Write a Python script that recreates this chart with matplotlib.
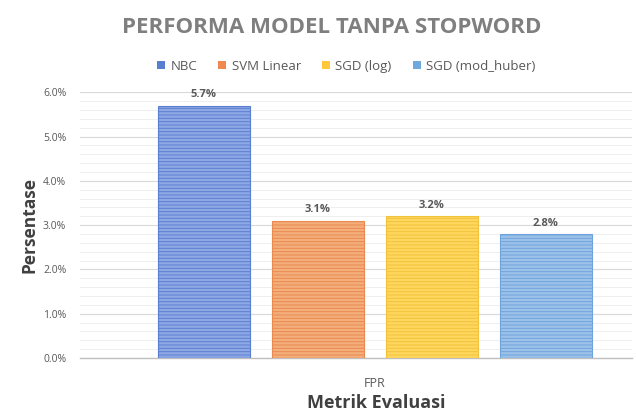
import matplotlib.pyplot as plt
from matplotlib.patches import Patch
from matplotlib.ticker import MultipleLocator, PercentFormatter

# data
models = ['NBC', 'SVM Linear', 'SGD (log)', 'SGD (mod_huber)']
fpr = [0.057, 0.031, 0.032, 0.028]
metric = ['FPR']

face_cols = ['#8EA8E6', '#F3AE7C', '#FFD75E', '#9CC2EA']
line_cols = ['#5B7FD0', '#E98A4E', '#F2C23A', '#6FA3DC']
legend_cols = ['#5B7FD0', '#EE8A50', '#FFC83A', '#6FA8DC']

plt.rcParams['font.family'] = ['Open Sans', 'DejaVu Sans']
plt.rcParams['hatch.linewidth'] = 0.7

fig = plt.figure(figsize=(6.36, 4.19), dpi=100)
ax = fig.add_axes([0.126, 0.1456, 0.868, 0.634])

step = 1.14
width = 0.92
for i, (m, v) in enumerate(zip(models, fpr)):
    x = (i - 1.5) * step
    ax.bar(x, v, width=width, color=face_cols[i], edgecolor=line_cols[i],
           hatch='-----', linewidth=0.8, zorder=3)
    ax.text(x, v + 0.0012, f'{v*100:.1f}%', ha='center', va='bottom',
            fontsize=8, color='#595959', fontweight='bold')

ax.set_xlim(-2.945, 2.575)
ax.set_ylim(0, 0.06)
ax.yaxis.set_major_locator(MultipleLocator(0.01))
ax.yaxis.set_minor_locator(MultipleLocator(0.002))
ax.yaxis.set_major_formatter(PercentFormatter(1.0, decimals=1))
ax.grid(axis='y', which='major', color='#D9D9D9', linewidth=0.8, zorder=0)
ax.grid(axis='y', which='minor', color='#EFEFEF', linewidth=0.7, zorder=0)

ax.set_xticks([0])
ax.set_xticklabels(metric)
ax.tick_params(axis='x', length=0, labelsize=9, labelcolor='#595959', pad=14)
ax.tick_params(axis='y', which='both', length=0, labelsize=7.5, labelcolor='#595959', pad=10)

for s in ['top', 'right', 'left']:
    ax.spines[s].set_visible(False)
ax.spines['bottom'].set_color('#BFBFBF')
ax.spines['bottom'].set_linewidth(1.0)

ax.set_ylabel('Persentase', fontsize=12.5, fontweight='bold', color='#404040', labelpad=3)
ax.set_xlabel('Metrik Evaluasi', fontsize=13, fontweight='bold', color='#404040', labelpad=2)
ax.xaxis.set_label_coords(0.536, -0.137)

fig.suptitle('PERFORMA MODEL TANPA STOPWORD', x=0.522, y=0.96,
             fontsize=16, fontweight='bold', color='#7F7F7F')

handles = [Patch(facecolor=c, edgecolor='none') for c in legend_cols]
ax.legend(handles, models, loc='lower center', bbox_to_anchor=(0.482, 1.03), ncol=4,
          frameon=False, fontsize=9.5, labelcolor='#595959', handlelength=0.6,
          handleheight=0.6, handletextpad=0.4, columnspacing=1.6)

fig.savefig('out.png', dpi=100)
